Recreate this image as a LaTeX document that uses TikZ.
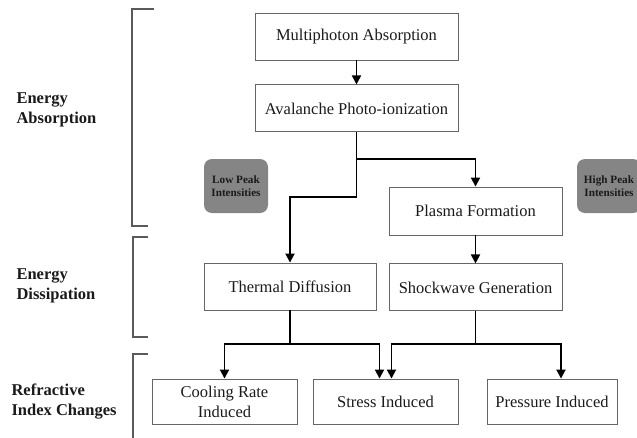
\documentclass[tikz,border=0pt]{standalone}
\usepackage{fontspec}
\setmainfont{Liberation Serif}
\usepackage{xcolor}
\usetikzlibrary{arrows.meta, positioning}
\definecolor{boxline}{HTML}{666666}
\definecolor{bracegray}{HTML}{5A5A5A}
\definecolor{tagfill}{HTML}{858585}
\definecolor{inktext}{HTML}{1A1A1A}

\begin{document}
\begin{tikzpicture}[
  x=1pt, y=-1pt,
  stage/.style={rectangle, draw=boxline, line width=0.9pt, align=center, text=inktext,
    font=\fontsize{16.5}{20}\selectfont, minimum height=47pt, inner sep=2pt},
  effect/.style={stage, minimum height=45pt},
  phase/.style={anchor=west, align=left, text=inktext, font=\fontsize{16.5}{20}\selectfont\bfseries},
  tag/.style={rectangle, rounded corners=8pt, fill=tagfill, align=center, text=inktext,
    font=\fontsize{11.2}{13}\selectfont\bfseries, minimum width=64pt, minimum height=54pt, inner sep=1pt},
  flow/.style={draw=black, line width=1.8pt, -{Triangle[length=9pt,width=9pt]}},
  bracket/.style={draw=bracegray, line width=1.6pt},
]
\useasboundingbox (0,0) rectangle (637,437);

% process boxes
\node[stage, minimum width=203pt] (multi) at (356.5,36.5) {Multiphoton Absorption};
\node[stage, minimum width=203pt, below=24pt of multi] (aval) {Avalanche Photo-ionization};
\node[stage, minimum width=173pt, minimum height=48pt] (plasma) at (475.5,211) {Plasma Formation};
\node[stage, minimum width=173pt, below=28pt of plasma] (shock) {Shockwave Generation};
\node[stage, minimum width=172pt] (thermal) at (290,286.5) {Thermal Diffusion};
\node[effect, minimum width=145pt] (cool) at (224.5,401.5) {Cooling Rate\\Induced};
\node[effect, minimum width=145pt] (stress) at (385.5,401.5) {Stress Induced};
\node[effect, minimum width=130pt] (press) at (552,401.5) {Pressure Induced};

% intensity tags
\node[tag] (low) at (236,186) {Low Peak\\Intensities};
\node[tag] (high) at (609,186) {High Peak\\Intensities};

% phase labels and brackets
\node[phase] (absorb) at (13,110) {Energy\\Absorption};
\node[phase] (dissip) at (13,286) {Energy\\Dissipation};
\node[phase] (refrac) at (8,402) {Refractive\\Index Changes};
\draw[bracket] (154,9) -- (132,9) -- (132,226) -- (148,226);
\draw[bracket] (148,237) -- (133,237) -- (133,337) -- (148,337);
\draw[bracket] (148,354) -- (133,354) -- (133,440);

% connectors
\coordinate (fork1) at (356.5,159);
\coordinate (fork2) at (356.5,197);
\coordinate (fork3) at (290,344);
\coordinate (fork4) at (475.5,344);
\draw[flow] (multi) -- (aval);
\draw[line width=1.8pt] (aval.south) -- (fork2);
\draw[flow] (fork1) -| (plasma.north);
\draw[flow] (fork2) -| (thermal.north);
\draw[flow] (plasma) -- (shock);
\draw[flow] (thermal.south) -- (fork3) -| (cool.north);
\draw[flow] (fork3) -| ([xshift=-6pt]stress.north);
\draw[flow] (shock.south) -- (fork4) -| ([xshift=6pt]stress.north);
\draw[flow] (fork4) -| ([xshift=9pt]press.north);
\end{tikzpicture}
\end{document}
